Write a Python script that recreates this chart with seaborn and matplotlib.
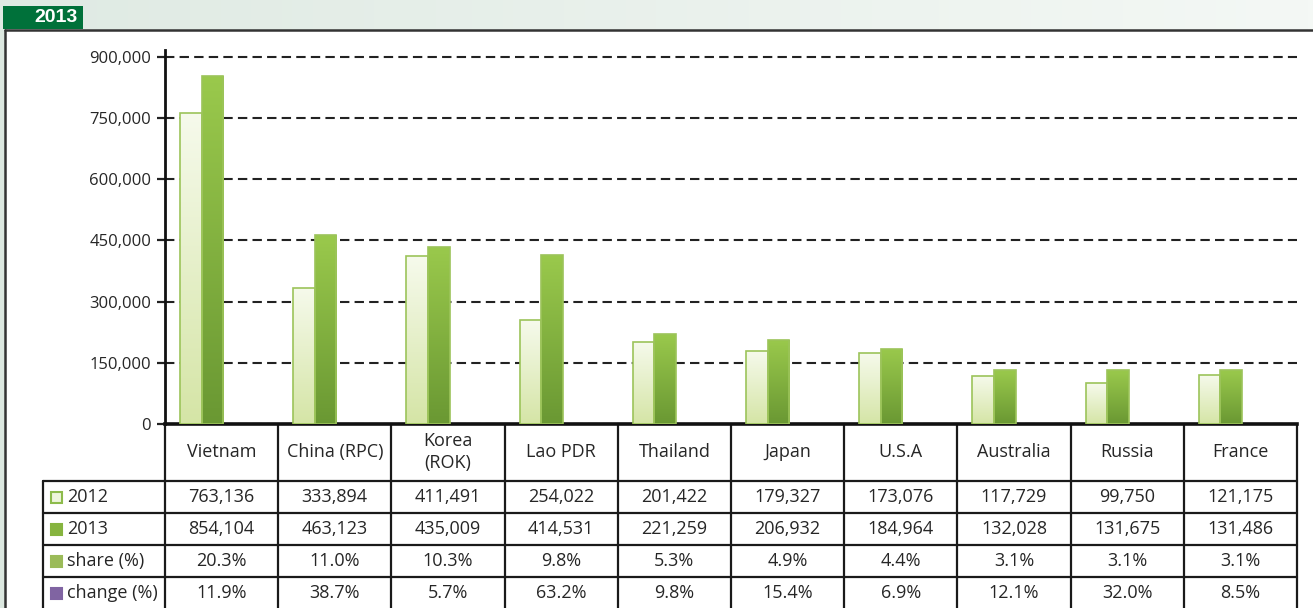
import numpy as np
import pandas as pd
import matplotlib
matplotlib.use('Agg')
import matplotlib.pyplot as plt
import seaborn as sns
from matplotlib.patches import Rectangle
from matplotlib.colors import LinearSegmentedColormap

# data
countries = ['Vietnam', 'China (RPC)', 'Korea (ROK)', 'Lao PDR', 'Thailand',
             'Japan', 'U.S.A', 'Australia', 'Russia', 'France']
col_labels = ['Vietnam', 'China (RPC)', 'Korea\n(ROK)', 'Lao PDR', 'Thailand',
              'Japan', 'U.S.A', 'Australia', 'Russia', 'France']
v2012 = [763136, 333894, 411491, 254022, 201422, 179327, 173076, 117729, 99750, 121175]
v2013 = [854104, 463123, 435009, 414531, 221259, 206932, 184964, 132028, 131675, 131486]
share = [20.3, 11.0, 10.3, 9.8, 5.3, 4.9, 4.4, 3.1, 3.1, 3.1]
change = [11.9, 38.7, 5.7, 63.2, 9.8, 15.4, 6.9, 12.1, 32.0, 8.5]
yticks = [0, 150000, 300000, 450000, 600000, 750000, 900000]
row_labels = ['2012', '2013', 'share (%)', 'change (%)']

df = pd.DataFrame({
    'country': countries * 2,
    'year': ['2012'] * len(countries) + ['2013'] * len(countries),
    'value': v2012 + v2013,
})

sns.set_theme(style='white')
plt.rcParams['font.family'] = ['Open Sans', 'DejaVu Sans']

W, H = 1313, 608
fig = plt.figure(figsize=(W / 100, H / 100), dpi=100)
fig.patch.set_facecolor('white')

# pixel overlay for frame + table
bg = fig.add_axes([0, 0, 1, 1], zorder=-5)
bg.set_xlim(0, W)
bg.set_ylim(H, 0)
bg.axis('off')
bg.patch.set_alpha(0)

band = np.linspace(0, 1, 256).reshape(1, -1)
band_cmap = LinearSegmentedColormap.from_list('band', ['#dfeae3', '#f4f8f5'])
bg.imshow(band, cmap=band_cmap, extent=[0, W, 30, 0], aspect='auto')
bg.add_patch(Rectangle((0, 30), 5, H - 30, color='#dce8e0', lw=0))
bg.add_patch(Rectangle((3, 6), 80, 23, color='#00713a', lw=0))
bg.text(56, 18, '2013', color='white', fontsize=14, fontweight='bold',
        family='Liberation Sans', ha='center', va='center')
bg.plot([5, W], [30, 30], color='#333333', lw=1.8)
bg.plot([5, 5], [30, H], color='#333333', lw=1.8)

# table
x0, cw = 165, 113.2
xs = [x0 + i * cw for i in range(len(countries) + 1)]
row_y = [481, 513, 545, 577, 609]
lc = '#1a1a1a'
for x in xs:
    bg.plot([x, x], [424, H], color=lc, lw=1.6)
bg.plot([43, 43], [481, H], color=lc, lw=1.6)
for y in row_y[:-1]:
    bg.plot([43, xs[-1]], [y, y], color=lc, lw=1.6)

tc = '#262626'
fs = 13
for i, lab in enumerate(col_labels):
    cx = x0 + (i + 0.5) * cw
    bg.text(cx, 452, lab, ha='center', va='center', fontsize=fs, color=tc,
            linespacing=1.35)
    cells = [f'{v2012[i]:,}', f'{v2013[i]:,}', f'{share[i]:.1f}%', f'{change[i]:.1f}%']
    for r, txt in enumerate(cells):
        cy = (row_y[r] + row_y[r + 1]) / 2
        bg.text(cx, cy, txt, ha='center', va='center', fontsize=fs, color=tc)

key_styles = [('#eef5dc', '#8dbb4c'), ('#86b43f', '#86b43f'),
              ('#9bbb59', '#9bbb59'), ('#8064a2', '#8064a2')]
for r, lab in enumerate(row_labels):
    cy = (row_y[r] + row_y[r + 1]) / 2
    fc, ec = key_styles[r]
    bg.add_patch(Rectangle((51, cy - 5.5), 11, 11, facecolor=fc, edgecolor=ec, lw=1.5))
    bg.text(67, cy, lab, ha='left', va='center', fontsize=fs, color=tc)

# bar chart
ax_top = 50
ymax = 900000 * (424 - ax_top) / (424 - 57)
ax = fig.add_axes([165 / W, (H - 424) / H, (1297 - 165) / W, (424 - ax_top) / H])
ax.patch.set_alpha(0)
sns.barplot(data=df, x='country', y='value', hue='year', hue_order=['2012', '2013'],
            palette=['#e8f2cf', '#86b43f'], width=0.38, gap=0, legend=False,
            edgecolor='#9cc45a', linewidth=1.2, ax=ax, zorder=3)

shift = 20 / cw
ax.set_xlim(-0.5 + shift, len(countries) - 0.5 + shift)
ax.set_ylim(0, ymax)
ax.set_yticks(yticks)
ax.set_yticklabels([f'{t:,}' for t in yticks])
ax.set_xticks([])
ax.set_xlabel('')
ax.set_ylabel('')
ax.yaxis.grid(True, linestyle=(0, (4.5, 2.5)), color='#222222', lw=1.5, zorder=0)
ax.set_axisbelow(True)
ax.tick_params(axis='y', left=True, length=6, width=1.6, color='#222222',
               labelsize=12, labelcolor='#262626', pad=4)
for s in ['top', 'right']:
    ax.spines[s].set_visible(False)
ax.spines['left'].set_color('#111111')
ax.spines['left'].set_linewidth(2)
ax.spines['bottom'].set_color('#111111')
ax.spines['bottom'].set_linewidth(2.6)

# vertical gradients on the bars
grads = [LinearSegmentedColormap.from_list('g12', ['#d5e5a6', '#f6faec']),
         LinearSegmentedColormap.from_list('g13', ['#6a9833', '#9ac94c'])]
grad = np.linspace(0, 1, 128).reshape(-1, 1)
for k, cont in enumerate(ax.containers):
    for bar in cont:
        bx, by = bar.get_x(), bar.get_y()
        bw, bh = bar.get_width(), bar.get_height()
        im = ax.imshow(grad, cmap=grads[k], origin='lower', aspect='auto',
                       extent=[bx, bx + bw, by, by + bh], zorder=3.5)
        im.set_clip_path(bar)
        bar.set_facecolor('none')
        bar.set_zorder(4)
ax.set_xlim(-0.5 + shift, len(countries) - 0.5 + shift)
ax.set_ylim(0, ymax)

fig.savefig('out.png', dpi=100)
